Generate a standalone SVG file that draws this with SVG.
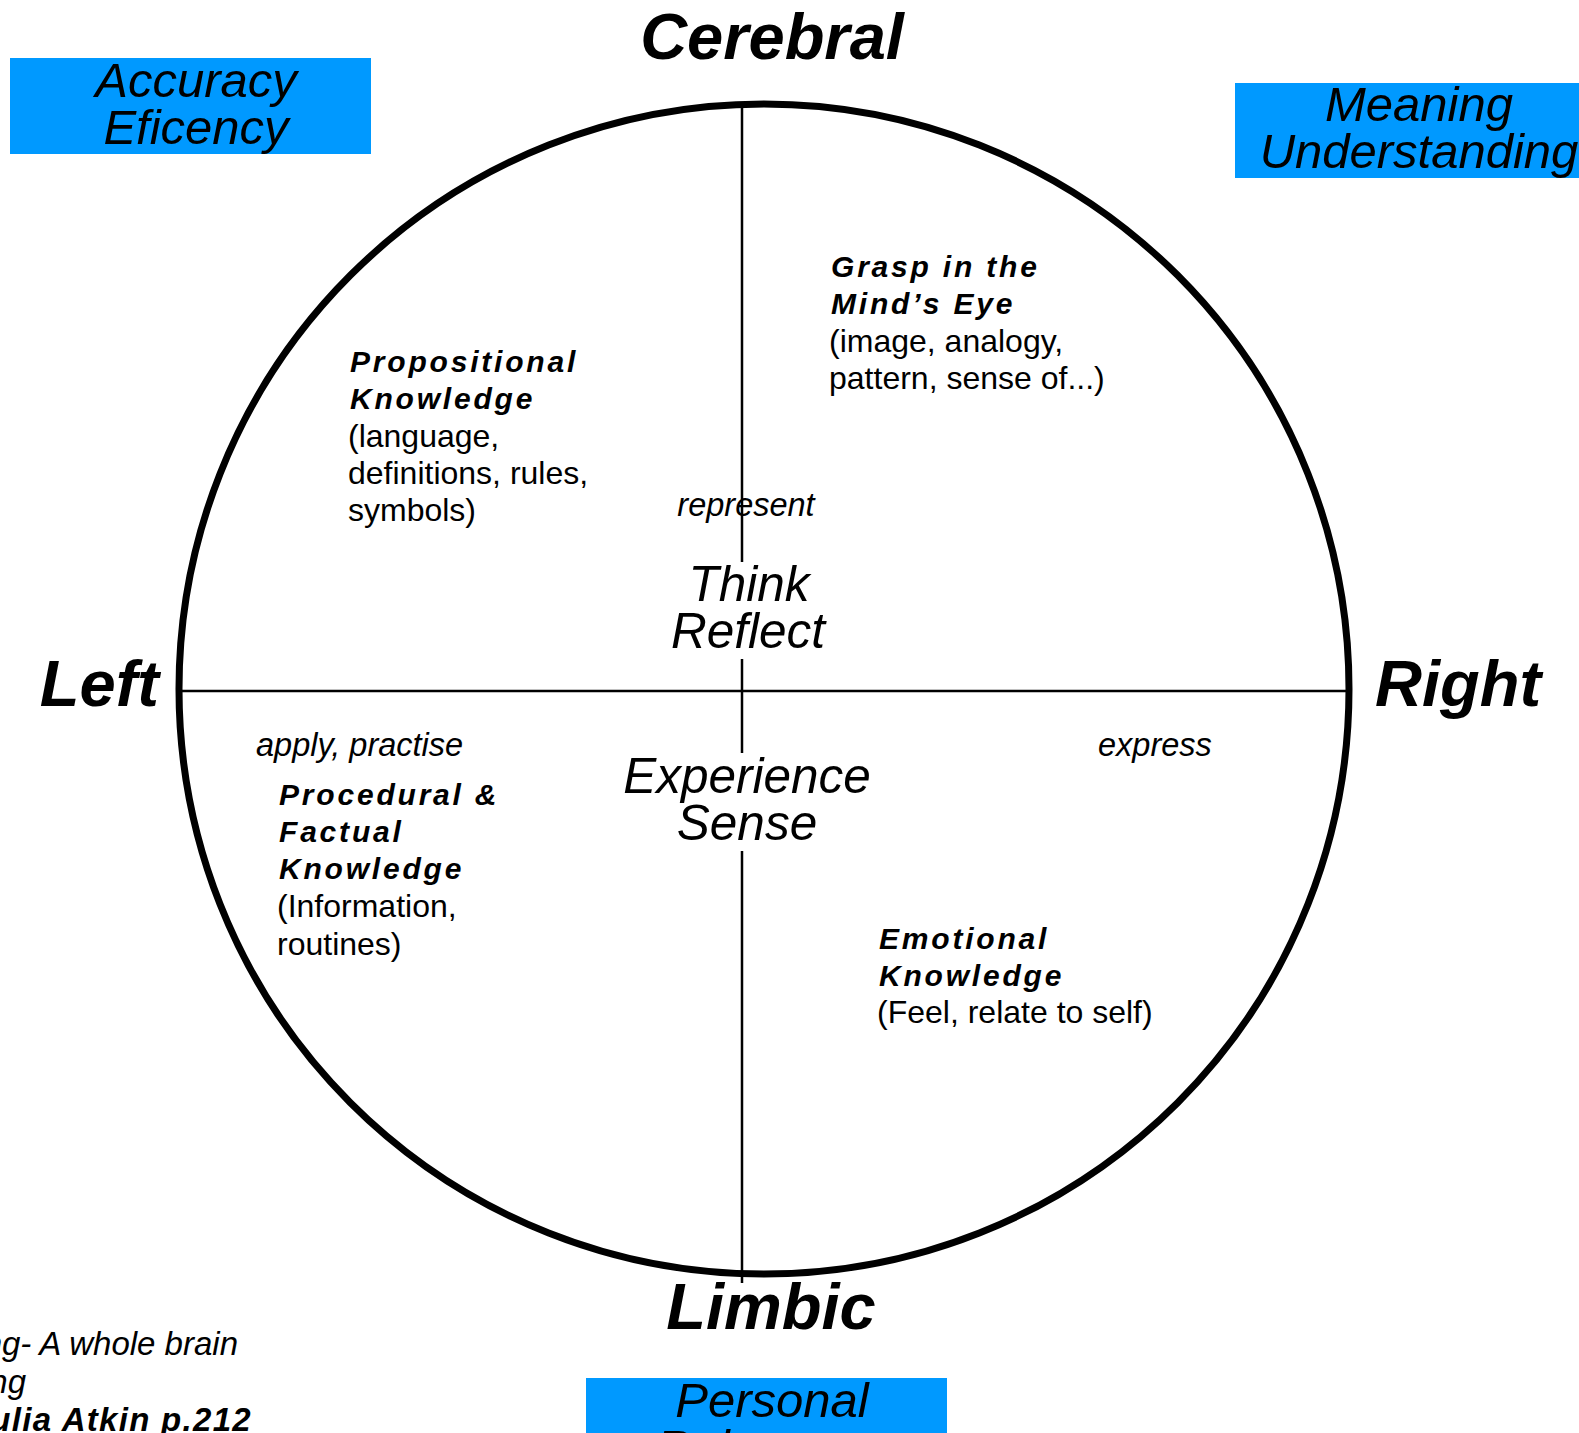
<svg xmlns="http://www.w3.org/2000/svg" width="1579" height="1433" viewBox="0 0 1579 1433">
<style>
text{font-family:"Liberation Sans",Arial,sans-serif;fill:#000}
.big{font-size:65px;font-weight:bold;font-style:italic}
.box{fill:#0099FF}
.boxt{font-size:49px;font-style:italic;text-anchor:middle}
.mid{font-size:49.5px;font-style:italic;text-anchor:middle}
.verb{font-size:32.5px;font-style:italic}
.head{font-size:30px;font-weight:bold;font-style:italic;letter-spacing:2.8px}
.body{font-size:32px}
.ref{font-size:33px;font-style:italic;text-anchor:end}
.line{stroke:#000;stroke-width:2.5;fill:none}
</style>
<rect width="1579" height="1433" fill="#fff"/>
<g id="connectors">
<circle cx="764" cy="689" r="585" fill="none" stroke="#000" stroke-width="7"/>
<line class="line" x1="179" y1="691" x2="1349" y2="691"/>
<line class="line" x1="742" y1="104" x2="742" y2="562"/>
<line class="line" x1="742" y1="659" x2="742" y2="753"/>
<line class="line" x1="742" y1="851" x2="742" y2="1283"/>
</g>
<g id="cerebral"><text class="big" x="772" y="59" text-anchor="middle">Cerebral</text></g>
<g id="limbic"><text class="big" x="771" y="1329" text-anchor="middle">Limbic</text></g>
<g id="left"><text class="big" x="159" y="706" text-anchor="end">Left</text></g>
<g id="right"><text class="big" x="1375" y="706">Right</text></g>
<g id="accuracy">
<rect class="box" x="10" y="58" width="361" height="96"/>
<text class="boxt" x="196" y="97">Accuracy</text>
<text class="boxt" x="196" y="144">Eficency</text>
</g>
<g id="meaning">
<rect class="box" x="1235" y="83" width="344" height="95"/>
<text class="boxt" x="1419" y="121">Meaning</text>
<text class="boxt" x="1419" y="168">Understanding</text>
</g>
<g id="personal">
<rect class="box" x="586" y="1378" width="361" height="60"/>
<text class="boxt" x="772" y="1417">Personal</text>
<text class="boxt" x="772" y="1464">Relevance</text>
</g>
<g id="think">
<text class="verb" x="746" y="516" text-anchor="middle">represent</text>
<text class="mid" x="749" y="601">Think</text>
<text class="mid" x="748" y="648">Reflect</text>
</g>
<g id="experience">
<text class="mid" x="747" y="793">Experience</text>
<text class="mid" x="747" y="840">Sense</text>
</g>
<g id="propositional">
<text class="head" x="350" y="372">Propositional</text>
<text class="head" x="350" y="409">Knowledge</text>
<text class="body" x="348" y="447">(language,</text>
<text class="body" x="348" y="484">definitions, rules,</text>
<text class="body" x="348" y="521">symbols)</text>
</g>
<g id="grasp">
<text class="head" x="831" y="277">Grasp in the</text>
<text class="head" x="831" y="314">Mind’s Eye</text>
<text class="body" x="829" y="352">(image, analogy,</text>
<text class="body" x="829" y="389">pattern, sense of...)</text>
</g>
<g id="procedural">
<text class="verb" x="256" y="756">apply, practise</text>
<text class="head" x="279" y="805">Procedural &amp;</text>
<text class="head" x="279" y="842">Factual</text>
<text class="head" x="279" y="879">Knowledge</text>
<text class="body" x="277" y="917">(Information,</text>
<text class="body" x="277" y="955">routines)</text>
</g>
<g id="emotional">
<text class="verb" x="1098" y="756">express</text>
<text class="head" x="879" y="949">Emotional</text>
<text class="head" x="879" y="986">Knowledge</text>
<text class="body" x="877" y="1023">(Feel, relate to self)</text>
</g>
<g id="reference">
<text class="ref" x="238" y="1355">ng- A whole brain</text>
<text class="ref" x="26" y="1393">ng</text>
<text class="ref" x="252" y="1431" font-weight="bold" letter-spacing="1.3">Julia Atkin p.212</text>
</g>
</svg>
